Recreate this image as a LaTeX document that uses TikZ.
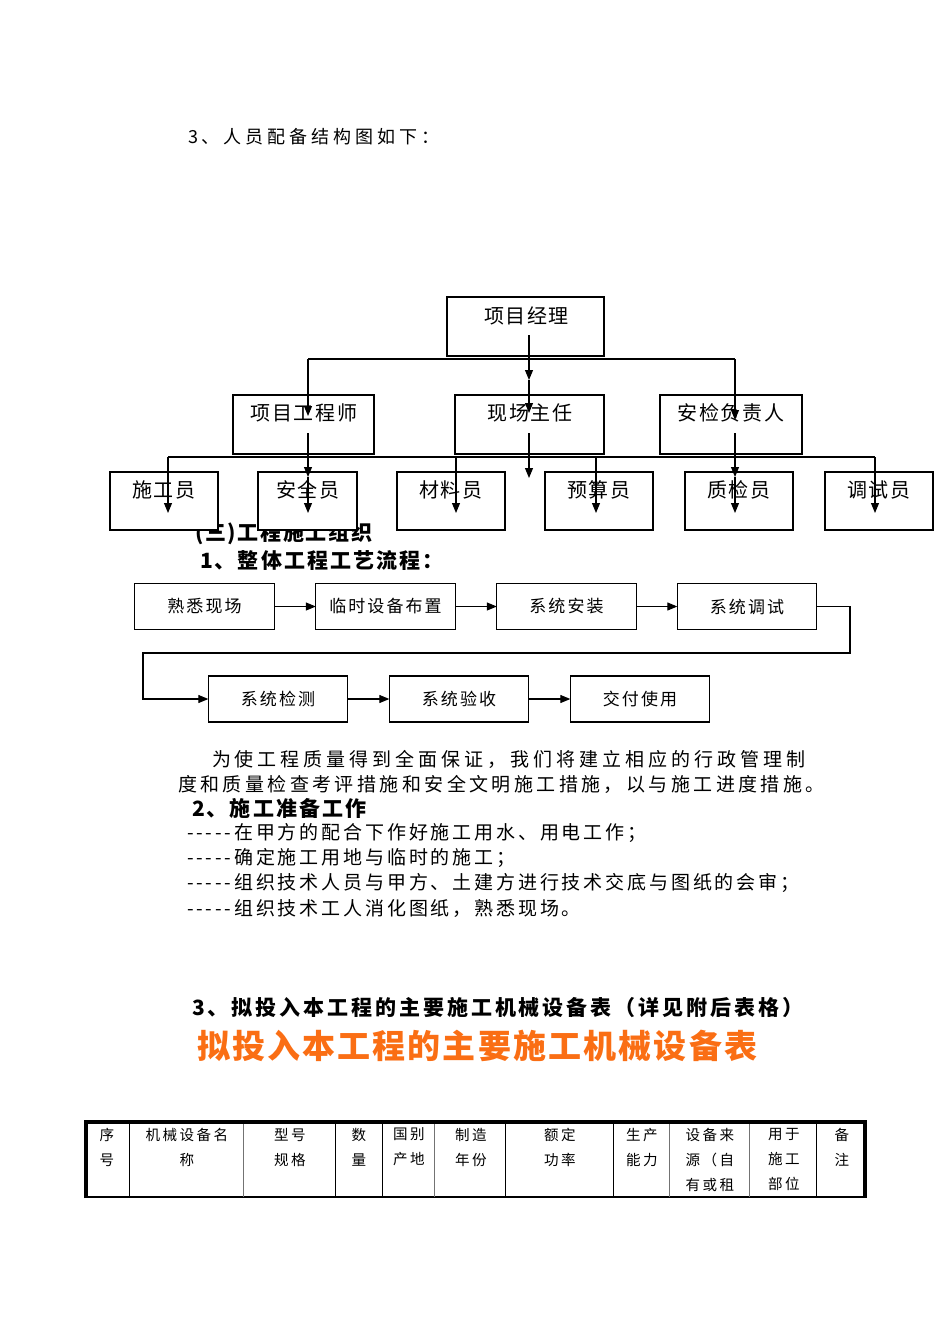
\documentclass[tikz,border=0pt]{standalone}
\usepackage{fontspec}
\setmainfont{Noto Sans CJK SC}
\usetikzlibrary{arrows.meta}
\definecolor{orangeT}{RGB}{250,110,20}
\newcommand\fs[2]{\fontsize{#1}{#2}\selectfont}
\newcommand\ls[1]{\addfontfeatures{LetterSpace=#1}}
\newcommand\dashes{-{}-{}-{}-{}-{}}
\tikzset{
  every node/.style={inner sep=0pt, outer sep=0pt},
  box/.style={draw, line width=0.8pt, fill=white, inner sep=0pt},
  orgbox/.style={box, minimum height=44.25pt},
  lowbox/.style={box, minimum width=81pt, minimum height=43.5pt},
  fbox/.style={box, minimum width=104.5pt, minimum height=34pt, font=\fs{12.75pt}{15pt}\ls{12}},
  orgtxt/.style={font=\fs{15pt}{18pt}\ls{8}},
  body/.style={anchor=west, font=\fs{14.25pt}{17pt}\ls{15}},
  head/.style={anchor=west, font=\bfseries\fs{15.75pt}{18pt}\ls{10}},
  th/.style={anchor=north, align=center, font=\fs{10.9pt}{18.75pt}\ls{17}},
  arr/.style={line width=0.8pt, -{Triangle[length=7.5pt,width=6pt]}},
  ln/.style={line width=0.8pt},
}
\begin{document}
\begin{tikzpicture}[x=0.75pt,y=-0.75pt]
\useasboundingbox (0,0) rectangle (950,1344);
\fill[white] (0,0) rectangle (950,1344);

% title
\node[anchor=west, font=\fs{13.5pt}{16pt}\ls{22}] (title) at (188,137) {3、人员配备结构图如下：};

% org chart: upper levels
\node[orgbox, minimum width=117.75pt] (pm) at (525.5,326.5) {};
\node[orgbox, minimum width=105.75pt] (eng) at (303.5,424.5) {};
\node[orgbox, minimum width=111.75pt] (site) at (529.5,424.5) {};
\node[orgbox, minimum width=106.5pt] (safe) at (731,424.5) {};

% section heading partly hidden by the boxes
\node[head, font=\bfseries\fs{15.75pt}{18pt}\ls{8}] (sec3) at (195,534) {(三)工程施工组织};
\node[head] (sec31) at (200,560) {1、整体工程工艺流程：};

% org chart: lower level
\node[lowbox] (s1) at (164,501) {};
\node[lowbox, minimum width=74.25pt] (s2) at (307.5,501) {};
\node[lowbox] (s3) at (451,501) {};
\node[lowbox] (s4) at (599,501) {};
\node[lowbox] (s5) at (739,501) {};
\node[lowbox] (s6) at (879,501) {};

% box labels
\node[orgtxt] (pmt) at (526.5,316) {项目经理};
\node[orgtxt] (engt) at (304,413) {项目工程师};
\node[orgtxt] (sitet) at (530,413) {现场主任};
\node[orgtxt] (safet) at (731,413) {安检负责人};
\node[orgtxt] (s1t) at (164,490) {施工员};
\node[orgtxt] (s2t) at (308,490) {安全员};
\node[orgtxt] (s3t) at (451,490) {材料员};
\node[orgtxt] (s4t) at (599,490) {预算员};
\node[orgtxt] (s5t) at (739,490) {质检员};
\node[orgtxt] (s6t) at (879,490) {调试员};

% org connectors
\coordinate (a0) at (529,335); \coordinate (a1) at (529,380); \coordinate (a2) at (529,413);
\draw[arr] (a0) -- (a1); \draw[arr] (a1) -- (a2);
\coordinate (h1) at (308,359); \coordinate (h2) at (735,359);
\coordinate (b1) at (308,416); \coordinate (b2) at (735,420);
\draw[ln] (h1) -- (h2); \draw[arr] (h1) -- (b1); \draw[arr] (h2) -- (b2);
\coordinate (c0) at (308,433); \coordinate (c1) at (308,477); \coordinate (c2) at (308,513);
\draw[arr] (c0) -- (c1); \draw[arr] (c1) -- (c2);
\coordinate (d0) at (529,433); \coordinate (d1) at (529,478);
\draw[arr] (d0) -- (d1);
\coordinate (e0) at (735,433); \coordinate (e1) at (735,477); \coordinate (e2) at (735,513);
\draw[arr] (e0) -- (e1); \draw[arr] (e1) -- (e2);
\coordinate (g1) at (168,457); \coordinate (g2) at (875,457);
\coordinate (g3) at (456,457); \coordinate (g4) at (596,457);
\coordinate (k1) at (168,513); \coordinate (k2) at (875,513);
\coordinate (k3) at (456,513); \coordinate (k4) at (596,513);
\draw[ln] (g1) -- (g2);
\draw[arr] (g1) -- (k1); \draw[arr] (g3) -- (k3); \draw[arr] (g4) -- (k4); \draw[arr] (g2) -- (k2);

% process flow
\node[fbox] (f1) at (204.5,606.5) {熟悉现场};
\node[fbox] (f2) at (385.5,606.5) {临时设备布置};
\node[fbox] (f3) at (566.5,606.5) {系统安装};
\node[fbox] (f4) at (747,606.5) {系统调试};
\node[fbox, minimum height=34.5pt] (f5) at (278,699) {系统检测};
\node[fbox, minimum height=34.5pt] (f6) at (459,699) {系统验收};
\node[fbox, minimum height=34.5pt] (f7) at (640,699) {交付使用};
\draw[arr] (f1.east) -- (f2.west);
\draw[arr] (f2.east) -- (f3.west);
\draw[arr] (f3.east) -- (f4.west);
\coordinate (t1) at (850,653); \coordinate (t2) at (143,653);
\draw[arr] (f4.east) -| (t1) -- (t2) |- (f5.west);
\draw[arr] (f5.east) -- (f6.west);
\draw[arr] (f6.east) -- (f7.west);

% paragraph
\node[body, font=\fs{14.25pt}{17pt}\ls{21}] (p1) at (212,759) {为使工程质量得到全面保证，我们将建立相应的行政管理制};
\node[body, font=\fs{14.25pt}{17pt}\ls{18}] (p2) at (178,784) {度和质量检查考评措施和安全文明施工措施，以与施工进度措施。};
\node[head] (sec32) at (192,808) {2、施工准备工作};
\node[body] (q1) at (187,833) {\dashes 在甲方的配合下作好施工用水、用电工作；};
\node[body] (q2) at (187,858) {\dashes 确定施工用地与临时的施工；};
\node[body] (q3) at (187,883) {\dashes 组织技术人员与甲方、土建方进行技术交底与图纸的会审；};
\node[body] (q4) at (187,908) {\dashes 组织技术工人消化图纸，熟悉现场。};

% table heading
\node[head, font=\bfseries\fs{15.75pt}{18pt}\ls{14}] (sec33) at (192,1008) {3、拟投入本工程的主要施工机械设备表（详见附后表格）};
\node[anchor=west, text=orangeT, font=\bfseries\fs{24.75pt}{28pt}\ls{6.5}] (otitle) at (197,1046) {拟投入本工程的主要施工机械设备表};

% table
\draw[line width=1.1pt] (85,1197) -- (866,1197);
\foreach \x in {129,335,382,505,613,816} \draw[line width=0.75pt] (\x,1122) -- (\x,1197);
\foreach \x in {243,434,669,749} \draw[line width=0.75pt, black!55] (\x,1122) -- (\x,1197);
\draw[line width=2.4pt] (86,1198) -- (86,1122) -- (865,1122) -- (865,1198);

\node[th] (h01) at (107,1128) {序\\号};
\node[th] (h02) at (187,1128) {机械设备名\\称};
\node[th] (h03) at (290,1128) {型号\\规格};
\node[th] (h04) at (359,1128) {数\\量};
\node[th] (h05) at (409,1128) {国别\\产地};
\node[th] (h06) at (471,1128) {制造\\年份};
\node[th] (h07) at (560,1128) {额定\\功率};
\node[th] (h08) at (642,1128) {生产\\能力};
\node[th] (h09) at (710,1128) {设备来\\源（自\\有或租};
\node[th] (h10) at (784,1128) {用于\\施工\\部位};
\node[th] (h11) at (842,1128) {备\\注};
\end{tikzpicture}
\end{document}
